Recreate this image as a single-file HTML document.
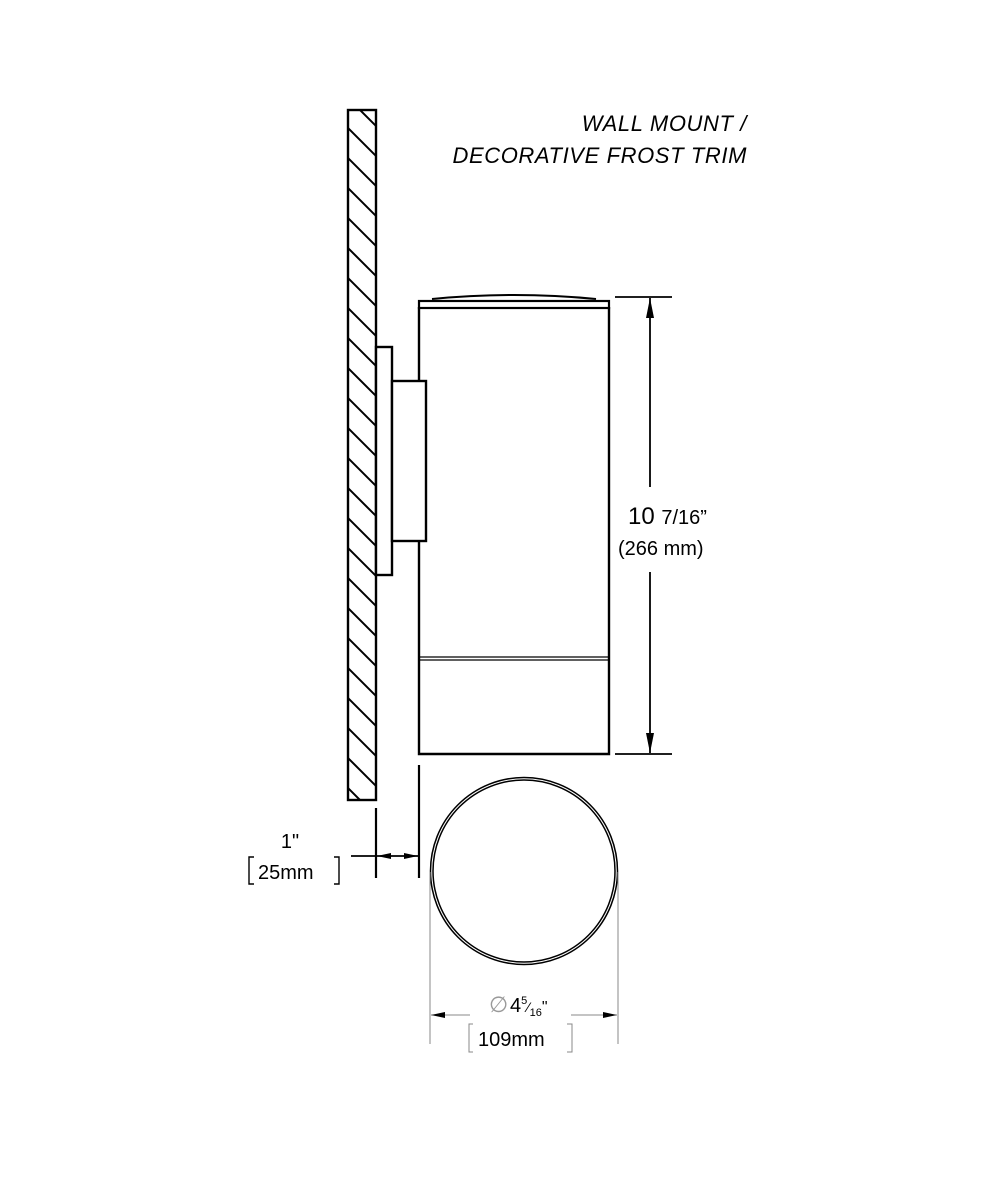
<!DOCTYPE html>
<html><head><meta charset="utf-8"><style>body{margin:0;background:#fff}svg{display:block}</style></head>
<body>
<svg width="1000" height="1200" viewBox="0 0 1000 1200" xmlns="http://www.w3.org/2000/svg" font-family="Liberation Sans, sans-serif">
<defs>
<clipPath id="w"><rect x="348" y="110" width="28" height="690"/></clipPath>
<marker id="a" viewBox="0 0 20 10" refX="20" refY="5" markerWidth="20" markerHeight="10" markerUnits="userSpaceOnUse" orient="auto"><path d="M0,1 L20,5 L0,9z" fill="#000"/></marker>
<marker id="b" viewBox="0 0 14 8" refX="14" refY="4" markerWidth="14" markerHeight="8" markerUnits="userSpaceOnUse" orient="auto"><path d="M0,1 L14,4 L0,7z" fill="#000"/></marker>
</defs>
<g clip-path="url(#w)" stroke="#000" stroke-width="2">
<path d="M330,80 l60,60 M330,110 l60,60 M330,140 l60,60 M330,170 l60,60 M330,200 l60,60 M330,230 l60,60 M330,260 l60,60 M330,290 l60,60 M330,320 l60,60 M330,350 l60,60 M330,380 l60,60 M330,410 l60,60 M330,440 l60,60 M330,470 l60,60 M330,500 l60,60 M330,530 l60,60 M330,560 l60,60 M330,590 l60,60 M330,620 l60,60 M330,650 l60,60 M330,680 l60,60 M330,710 l60,60 M330,740 l60,60 M330,770 l60,60"/>
</g>
<rect x="348" y="110" width="28" height="690" fill="none" stroke="#000" stroke-width="2.4"/>
<path d="M419,307 L419,754 L609,754 L609,307" fill="#fff" stroke="#000" stroke-width="2.4"/>
<rect x="376" y="347" width="16" height="228" fill="#fff" stroke="#000" stroke-width="2.4"/>
<rect x="392" y="381" width="34" height="160" fill="#fff" stroke="#000" stroke-width="2.4"/>
<rect x="419" y="301" width="190" height="7" fill="#fff" stroke="#000" stroke-width="2.2"/>
<path d="M432,299 Q514,291 596,299" fill="none" stroke="#000" stroke-width="2"/>
<path d="M419,657 L609,657 M419,660 L609,660" stroke="#000" stroke-width="1.3"/>
<!-- height dim -->
<path d="M615,297 L672,297 M615,754 L672,754" stroke="#000" stroke-width="1.8"/>
<path d="M650,487 L650,298" stroke="#000" stroke-width="1.8" marker-end="url(#a)"/>
<path d="M650,572 L650,753" stroke="#000" stroke-width="1.8" marker-end="url(#a)"/>
<text x="628" y="524" font-size="24">10 <tspan font-size="20">7/16”</tspan></text>
<text x="618" y="555" font-size="20">(266 mm)</text>
<!-- title -->
<text x="747" y="131" font-size="22" font-style="italic" text-anchor="end" letter-spacing="0.6">WALL MOUNT /</text>
<text x="747" y="163" font-size="22" font-style="italic" text-anchor="end" letter-spacing="0.6">DECORATIVE FROST TRIM</text>
<!-- 1" dim -->
<path d="M376,808 L376,878 M419,765 L419,878" stroke="#000" stroke-width="2.2"/>
<path d="M351,856 L375,856" stroke="#000" stroke-width="1.8"/>
<path d="M397,856 L377,856" stroke="#000" stroke-width="1.8" marker-end="url(#b)"/>
<path d="M397,856 L418,856" stroke="#000" stroke-width="1.8" marker-end="url(#b)"/>
<text x="290" y="848" font-size="20" text-anchor="middle">1"</text>
<text x="258" y="879" font-size="20">25mm</text>
<path d="M254,857 L249,857 L249,884 L254,884 M334,857 L339,857 L339,884 L334,884" fill="none" stroke="#000" stroke-width="1.4"/>
<!-- circle -->
<circle cx="524" cy="871" r="93.5" fill="none" stroke="#000" stroke-width="1.5"/>
<circle cx="524" cy="871" r="91" fill="none" stroke="#000" stroke-width="1.5"/>
<path d="M430,872 L430,1044 M618,872 L618,1044" stroke="#888" stroke-width="1"/>
<path d="M470,1015 L431,1015" stroke="#888" stroke-width="1" marker-end="url(#b)"/>
<path d="M571,1015 L617,1015" stroke="#888" stroke-width="1" marker-end="url(#b)"/>
<text x="489" y="1012" font-size="22" fill="#999">∅</text>
<text x="510" y="1012" font-size="20">4<tspan font-size="11" dy="-8">5</tspan><tspan font-size="14" dy="8">⁄</tspan><tspan font-size="11" dy="4">16</tspan><tspan dy="-4" font-size="16">"</tspan></text>
<text x="478" y="1046" font-size="20">109mm</text>
<path d="M473,1024 L469,1024 L469,1052 L473,1052 M567,1024 L572,1024 L572,1052 L567,1052" fill="none" stroke="#888" stroke-width="1"/>
</svg>
</body></html>
